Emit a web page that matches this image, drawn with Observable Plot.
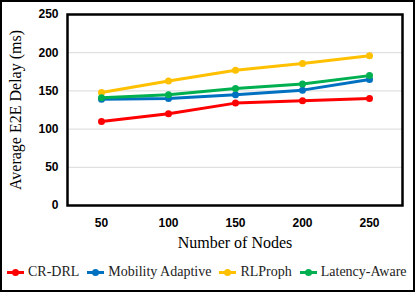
<!DOCTYPE html>
<html><head><meta charset="utf-8">
<script src="https://cdn.jsdelivr.net/npm/d3@7"></script>
<script src="https://cdn.jsdelivr.net/npm/@observablehq/plot@0.6"></script>
<style>
html,body{margin:0;padding:0;background:#fff;}
#wrap{position:relative;width:415px;height:292px;overflow:hidden;}
#border{position:absolute;left:0;top:0;width:415px;height:292px;box-sizing:border-box;border:2px solid #000;pointer-events:none;}
#chart{position:absolute;left:0;top:0;}
g[aria-label="y-axis label"] text, g[aria-label="x-axis label"] text{font-family:"Liberation Serif","Times New Roman",serif;font-weight:normal;font-size:16px;}
#legend{position:absolute;left:7px;top:264px;display:flex;align-items:center;font-family:"Liberation Serif","Times New Roman",serif;font-size:14px;color:#222;white-space:nowrap;}
.item{display:flex;align-items:center;margin-right:8px;}
.sw{position:relative;width:17px;height:3px;margin-right:4px;}
.sw i{position:absolute;left:5px;top:-2px;width:7px;height:7px;border-radius:50%;}
</style></head>
<body><div id="wrap"><div id="chart"></div><div id="legend"></div><div id="border"></div></div>
<script>
const nodes = [50, 100, 150, 200, 250];
const seriesNames = ["CR-DRL", "Mobility Adaptive", "RLProph", "Latency-Aware"];
const colors = ["#FF0000", "#0070C0", "#FFC000", "#00B050"];
const crdrl = [110, 120, 134, 137, 140];
const mobility = [139, 140, 145, 151, 165];
const rlproph = [148, 163, 177, 186, 196];
const latency = [141, 145, 153, 159, 170];
const yTicks = [0, 50, 100, 150, 200, 250];
const gridTicks = [50, 100, 150, 200];

const allSeries = [crdrl, mobility, rlproph, latency];
const data = [];
allSeries.forEach((vals, si) => vals.forEach((v, i) => data.push({series: seriesNames[si], nodes: nodes[i], delay: v})));

const plot = Plot.plot({
  width: 415, height: 255,
  marginLeft: 67, marginRight: 13, marginTop: 14, marginBottom: 50,
  x: {type: "point", domain: nodes, padding: 0.5, label: "Number of Nodes"},
  y: {domain: [0, 250], label: "Average E2E Delay (ms)"},
  color: {domain: seriesNames, range: colors},
  style: {fontFamily: "'Liberation Sans', Arial, sans-serif", fontSize: "12px", fontWeight: "bold", color: "#000", background: "transparent"},
  marks: [
    Plot.ruleY(gridTicks, {stroke: "#d9d9d9", strokeWidth: 1}),
    Plot.axisY({ticks: yTicks, tickSize: 0, tickPadding: 9, label: "Average E2E Delay (ms)", labelAnchor: "center", labelArrow: "none", labelOffset: 58}),
    Plot.axisX({tickSize: 0, tickPadding: 13, label: "Number of Nodes", labelAnchor: "center", labelArrow: "none", labelOffset: 42}),
    Plot.line(data, {x: "nodes", y: "delay", z: "series", stroke: "series", strokeWidth: 3}),
    Plot.dot(data, {x: "nodes", y: "delay", fill: "series", r: 3.5}),
    Plot.frame({stroke: "#000", strokeWidth: 2.5})
  ]
});
document.getElementById("chart").appendChild(plot);

const legend = document.getElementById("legend");
seriesNames.forEach((n, i) => {
  const it = document.createElement("div"); it.className = "item";
  it.innerHTML = `<span class="sw" style="background:${colors[i]}"><i style="background:${colors[i]}"></i></span><span>${n}</span>`;
  legend.appendChild(it);
});
</script></body></html>
